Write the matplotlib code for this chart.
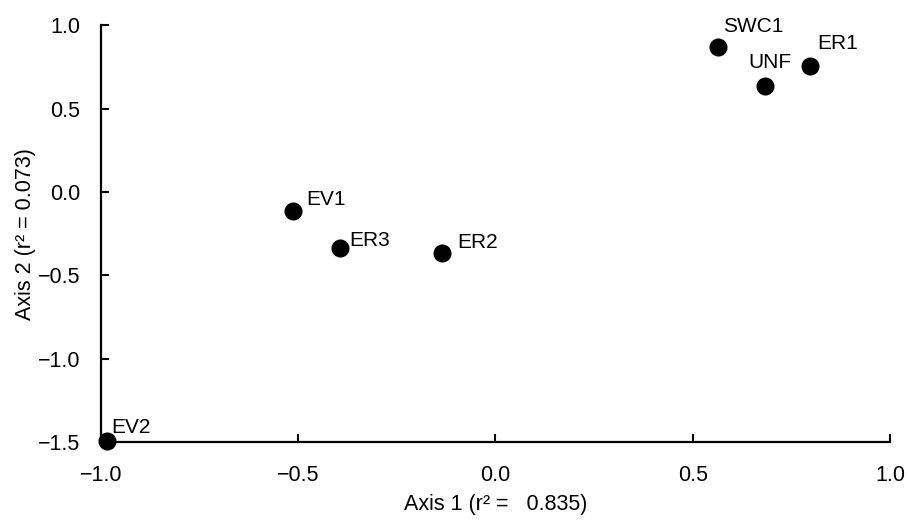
import matplotlib
matplotlib.use("Agg")
import matplotlib.pyplot as plt

# Ordination scores per site
sites = ["SWC1", "ER1", "UNF", "EV1", "ER3", "ER2", "EV2"]
axis1 = [0.564, 0.797, 0.683, -0.513, -0.394, -0.136, -0.985]
axis2 = [0.868, 0.754, 0.634, -0.116, -0.338, -0.368, -1.490]

x_ticks = [-1.0, -0.5, 0.0, 0.5, 1.0]
y_ticks = [-1.5, -1.0, -0.5, 0.0, 0.5, 1.0]

# label offsets (pixels) so names sit clear of the dots
label_offsets = {
    "SWC1": (5, 15), "ER1": (7, 17), "UNF": (-17, 18),
    "EV1": (13, 6), "ER3": (9, 2), "ER2": (15, 5), "EV2": (4, 8),
}

plt.rcParams["font.family"] = ["Liberation Sans", "DejaVu Sans"]

fig = plt.figure(figsize=(9.08, 5.21), dpi=100)
ax = fig.add_axes([0.1112, 0.1507, 0.869, 0.8013])

ax.plot(axis1, axis2, "o", color="black", markersize=12, clip_on=False)

for name, x, y in zip(sites, axis1, axis2):
    dx, dy = label_offsets[name]
    ax.annotate(name, (x, y), xytext=(dx * 0.72, dy * 0.72),
                textcoords="offset points", ha="left", va="baseline",
                fontsize=15)

ax.set_xlim(-1.0, 1.0)
ax.set_ylim(-1.5, 1.0)
ax.set_xticks(x_ticks)
ax.set_yticks(y_ticks)
ax.set_xticklabels([f"{v:.1f}".replace("-", "\u2212") for v in x_ticks])
ax.set_yticklabels([f"{v:.1f}".replace("-", "\u2212") for v in y_ticks])

for side in ["top", "right"]:
    ax.spines[side].set_visible(False)
for side in ["left", "bottom"]:
    ax.spines[side].set_linewidth(1.6)

ax.tick_params(axis="both", direction="in", length=6, width=1.5,
               labelsize=15.5)
ax.tick_params(axis="x", pad=16)
ax.tick_params(axis="y", pad=15)

ax.set_xlabel("Axis 1 (r\u00b2 =   0.835)", fontsize=15.5, labelpad=6)
ax.set_ylabel("Axis 2 (r\u00b2 = 0.073)", fontsize=15.5, labelpad=1)

fig.savefig("out.png", dpi=100)
